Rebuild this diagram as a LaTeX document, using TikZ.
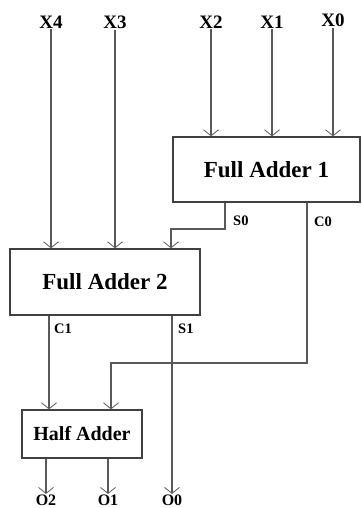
\documentclass[tikz,border=0pt]{standalone}
\usepackage{fontspec}
\setmainfont{Liberation Serif}
\usetikzlibrary{arrows.meta}
\begin{document}
\begin{tikzpicture}[x=1pt,y=-1pt,
  arr/.style={draw=black!65, line width=1.1pt, -{Straight Barb[length=6pt,width=15pt,line width=0.8pt]}},
  blk/.style={draw=black!75, line width=1.4pt, rectangle, inner sep=0pt, font=\bfseries\fontsize{23}{25}\selectfont},
  inlab/.style={font=\bfseries\fontsize{19}{20}\selectfont, inner sep=1pt},
  sig/.style={font=\bfseries\fontsize{14.5}{15}\selectfont, inner sep=1pt},
  outlab/.style={font=\bfseries\fontsize{16}{17}\selectfont, inner sep=0.5pt}]
\useasboundingbox (0,0) rectangle (361,508);
% blocks
\node[blk, minimum width=187pt, minimum height=65pt] (fa1) at (266.5,169.5) {Full Adder 1};
\node[blk, minimum width=190pt, minimum height=66pt] (fa2) at (105,282) {Full Adder 2};
\node[blk, minimum width=120pt, minimum height=48pt, font=\bfseries\fontsize{20}{22}\selectfont] (ha) at (82,434) {Half Adder};
% inputs
\node[inlab] (x4) at (51,22) {X4};
\node[inlab] (x3) at (115,22) {X3};
\node[inlab] (x2) at (211,22) {X2};
\node[inlab] (x1) at (272,22) {X1};
\node[inlab] (x0) at (333,20) {X0};
\draw[arr] (x4.south) -- (x4.south |- fa2.north);
\draw[arr] (x3.south) -- (x3.south |- fa2.north);
\draw[arr] (x2.south) -- (x2.south |- fa1.north);
\draw[arr] (x1.south) -- (x1.south |- fa1.north);
\draw[arr] (x0.south) -- (x0.south |- fa1.north);
% S0
\coordinate (s0p) at (225,229);
\coordinate (s0q) at (171,229);
\draw[arr] (fa1.south -| s0p) -- (s0p) -- (s0q) -- (s0q |- fa2.north);
\node[sig, anchor=west] (s0l) at (232,221) {S0};
% C0
\coordinate (c0p) at (307,363);
\coordinate (c0q) at (111,363);
\draw[arr] (fa1.south -| c0p) -- (c0p) -- (c0q) -- (c0q |- ha.north);
\node[sig, anchor=west] (c0l) at (313,222) {C0};
% C1
\coordinate (c1x) at (49,330);
\draw[arr] (fa2.south -| c1x) -- (c1x |- ha.north);
\node[sig, anchor=west] (c1l) at (53,329) {C1};
% outputs
\node[outlab] (o2) at (46,500) {O2};
\node[outlab] (o1) at (108,500) {O1};
\node[outlab] (o0) at (172,500) {O0};
\coordinate (s1x) at (172,330);
\draw[arr] (fa2.south -| s1x) -- (o0.north);
\node[sig, anchor=west] (s1l) at (177,329) {S1};
\draw[arr] (ha.south -| o2) -- (o2.north);
\draw[arr] (ha.south -| o1) -- (o1.north);
\end{tikzpicture}
\end{document}
